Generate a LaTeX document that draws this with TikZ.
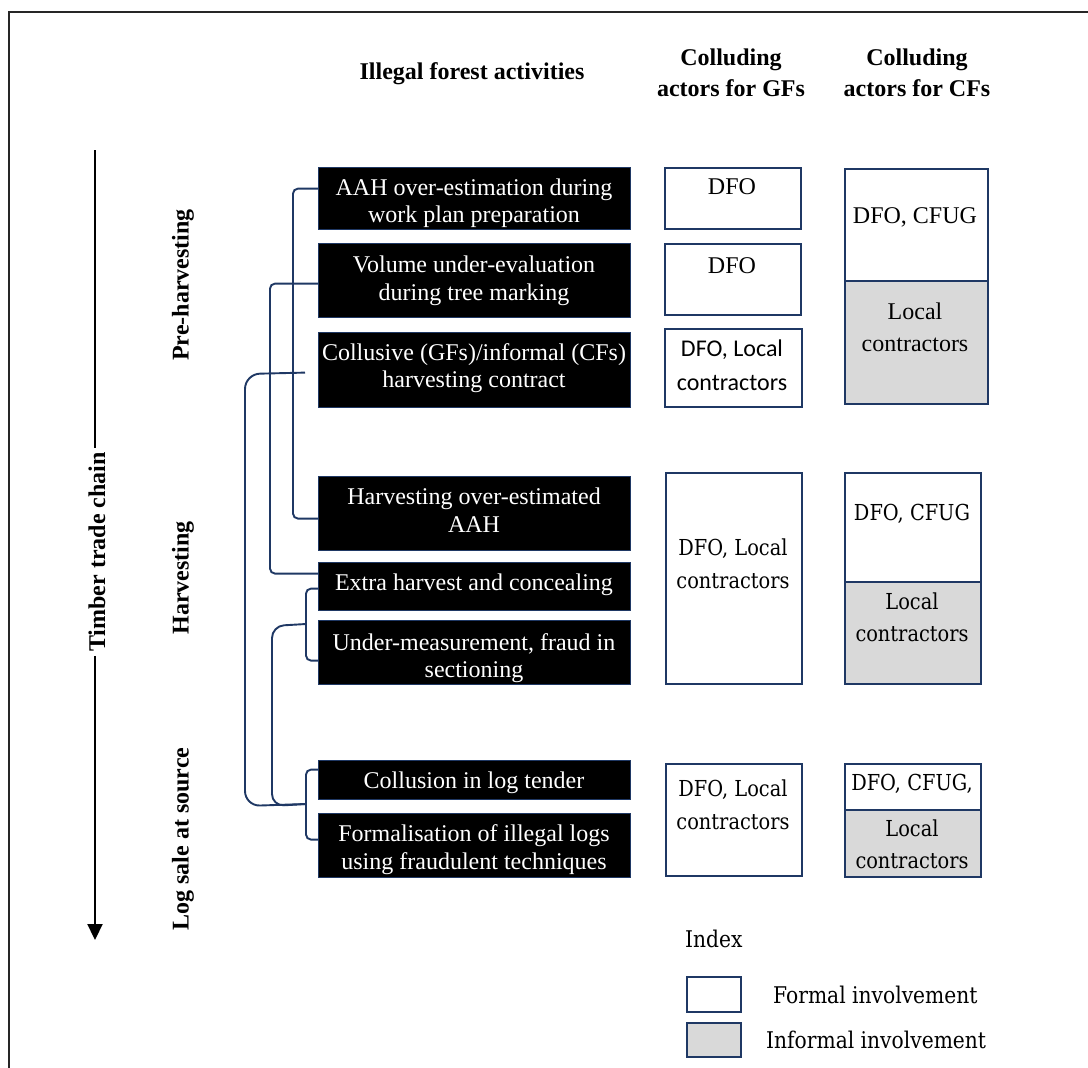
\documentclass[tikz,border=0pt]{standalone}
\usepackage{fontspec}
\setmainfont{Liberation Serif}
\newfontfamily\calfont{Carlito}
\newfontfamily\cambfont{DejaVu Serif}[FakeStretch=0.88]
\usetikzlibrary{arrows.meta}
\definecolor{navy}{RGB}{31,56,100}
\definecolor{infgray}{RGB}{217,217,217}

% rectangle node given by its corners: [style]{name}{x1}{y1}{x2}{y2}
\newcommand\placebox[6][]{%
  \node[#1,anchor=north west,inner sep=0pt,minimum width={#5-#3},minimum height={#6-#4}] (#2) at (#3,#4) {};}

\begin{document}
\begin{tikzpicture}[x=1pt,y=-1pt,
  actbox/.style={draw=navy,fill=black,line width=1.2pt},
  gfbox/.style={draw=navy,fill=white,line width=1.8pt},
  infbox/.style={draw=navy,fill=infgray,line width=1.8pt},
  wt/.style={anchor=base,text=white,inner sep=0pt,font=\fontsize{24}{28}\selectfont},
  tt/.style={anchor=base,inner sep=0pt,font=\fontsize{24}{28}\selectfont},
  ct/.style={anchor=base,inner sep=0pt,font=\calfont\fontsize{24}{28}\selectfont},
  mt/.style={anchor=base,inner sep=0pt,font=\cambfont\fontsize{22}{26}\selectfont},
  lt/.style={anchor=base west,inner sep=0pt,font=\cambfont\fontsize{23}{27}\selectfont},
  hdr/.style={inner sep=0pt,font=\bfseries\fontsize{24}{28}\selectfont},
  brk/.style={draw=navy,line width=1.9pt,rounded corners=5pt},
  chain/.style={line width=2.2pt,black}
]
\useasboundingbox (0,0) rectangle (1088,1068);

% frame
\draw[line width=1.2pt,black!85] (1088,12) -- (9,12) -- (9,1068);

% column headers
\node[hdr,anchor=base] (h1) at (472,79) {Illegal forest activities};
\node[hdr,anchor=base] (h2a) at (731,65) {Colluding};
\node[hdr,anchor=base] (h2b) at (731,96) {actors for GFs};
\node[hdr,anchor=base] (h3a) at (917,65) {Colluding};
\node[hdr,anchor=base] (h3b) at (917,96) {actors for CFs};

% timber trade chain axis
\node[hdr,rotate=90,inner sep=4pt] (ttc) at (97,552) {Timber trade chain};
\coordinate (atop) at (95,150);
\coordinate (abot) at (95,940);
\draw[chain] (atop) -- (atop |- ttc.east);
\draw[chain,-{Triangle[length=16pt,width=15pt]}] (atop |- ttc.west) -- (abot);

% phases
\node[hdr,rotate=90] (ph1) at (183,285) {Pre-harvesting};
\node[hdr,rotate=90] (ph2) at (183,578) {Harvesting};
\node[hdr,rotate=90] (ph3) at (183,839) {Log sale at source};

% illegal activities
\placebox[actbox]{b1}{318}{167}{630}{229}
\placebox[actbox]{b2}{318}{243}{630}{317}
\placebox[actbox]{b3}{318}{332}{630}{407}
\placebox[actbox]{b4}{318}{476}{630}{550}
\placebox[actbox]{b5}{318}{562}{630}{610}
\placebox[actbox]{b6}{318}{620}{630}{684}
\placebox[actbox]{b7}{318}{760}{630}{799}
\placebox[actbox]{b8}{318}{813}{630}{877}

\node[wt] (t1a) at (474,195) {AAH over-estimation during};
\node[wt] (t1b) at (474,222) {work plan preparation};
\node[wt] (t2a) at (474,272) {Volume under-evaluation};
\node[wt] (t2b) at (474,300) {during tree marking};
\node[wt] (t3a) at (474,360) {Collusive (GFs)/informal (CFs)};
\node[wt] (t3b) at (474,387) {harvesting contract};
\node[wt] (t4a) at (474,504) {Harvesting over-estimated};
\node[wt] (t4b) at (474,532) {AAH};
\node[wt] (t5a) at (474,590) {Extra harvest and concealing};
\node[wt] (t6a) at (474,650) {Under-measurement, fraud in};
\node[wt] (t6b) at (474,677) {sectioning};
\node[wt] (t7a) at (474,788) {Collusion in log tender};
\node[wt] (t8a) at (474,841) {Formalisation of illegal logs};
\node[wt] (t8b) at (474,869) {using fraudulent techniques};

% brackets linking related activities
\draw[brk] ([yshift=10pt]b1.west) -- ++(-25,0) |- ([yshift=-5pt]b4.west);
\draw[brk] ([yshift=-3pt]b2.west) -- ++(-48,0) |- ([yshift=13pt]b5.west);
\draw[brk] ([yshift=-2pt]b5.west) -- ++(-12,0) |- ([yshift=-8pt]b6.west);
\draw[brk] ([yshift=10.5pt]b7.west) -- ++(-12,0) |- ([yshift=6pt]b8.west);
\coordinate (dmid) at (306,624);
\coordinate (fmid) at (306,804);
\coordinate (cstart) at ([xshift=-13pt,yshift=-2.5pt]b3.west);
\draw[brk,rounded corners=15pt] (cstart) -- (245,374) -- (245,806) -- (fmid);
\draw[brk,rounded corners=12pt] (dmid) -- (272,626) -- (272,806) -- (fmid);

% colluding actors, government forests
\placebox[gfbox]{g1}{664}{167}{800}{228}
\placebox[gfbox]{g2}{664}{243}{800}{314}
\placebox[gfbox]{g3}{664}{328}{801}{406}
\placebox[gfbox]{g4}{665}{472}{801}{683}
\placebox[gfbox]{g5}{665}{763}{801}{875}
\node[tt] (g1t) at (732,194) {DFO};
\node[tt] (g2t) at (732,273) {DFO};
\node[ct] (g3ta) at (732,356) {DFO, Local};
\node[ct] (g3tb) at (732,390) {contractors};
\node[mt] (g4ta) at (733,555) {DFO, Local};
\node[mt] (g4tb) at (733,588) {contractors};
\node[mt] (g5ta) at (733,796) {DFO, Local};
\node[mt] (g5tb) at (733,829) {contractors};

% colluding actors, community forests
\placebox[gfbox]{c1t}{844}{168}{987}{280}
\placebox[infbox]{c1b}{844}{280}{987}{403}
\placebox[gfbox]{c2t}{844}{472}{980}{581}
\placebox[infbox]{c2b}{844}{581}{980}{683}
\placebox[gfbox]{c3t}{844}{763}{980}{809}
\placebox[infbox]{c3b}{844}{809}{980}{876}
\node[tt] (c1ta) at (915,223) {DFO, CFUG};
\node[tt] (c1ba) at (915,319) {Local};
\node[tt] (c1bb) at (915,351) {contractors};
\node[mt] (c2ta) at (912,520) {DFO, CFUG};
\node[mt] (c2ba) at (912,609) {Local};
\node[mt] (c2bb) at (912,641) {contractors};
\node[mt] (c3ta) at (912,790) {DFO, CFUG,};
\node[mt] (c3ba) at (912,836) {Local};
\node[mt] (c3bb) at (912,868) {contractors};

% index
\node[lt] (idx) at (685,947) {Index};
\placebox[gfbox]{l1}{686}{976}{740}{1011}
\placebox[infbox]{l2}{686}{1022}{740}{1056}
\node[lt] (l1t) at (773,1003) {Formal involvement};
\node[lt] (l2t) at (766,1048) {Informal involvement};
\end{tikzpicture}
\end{document}
